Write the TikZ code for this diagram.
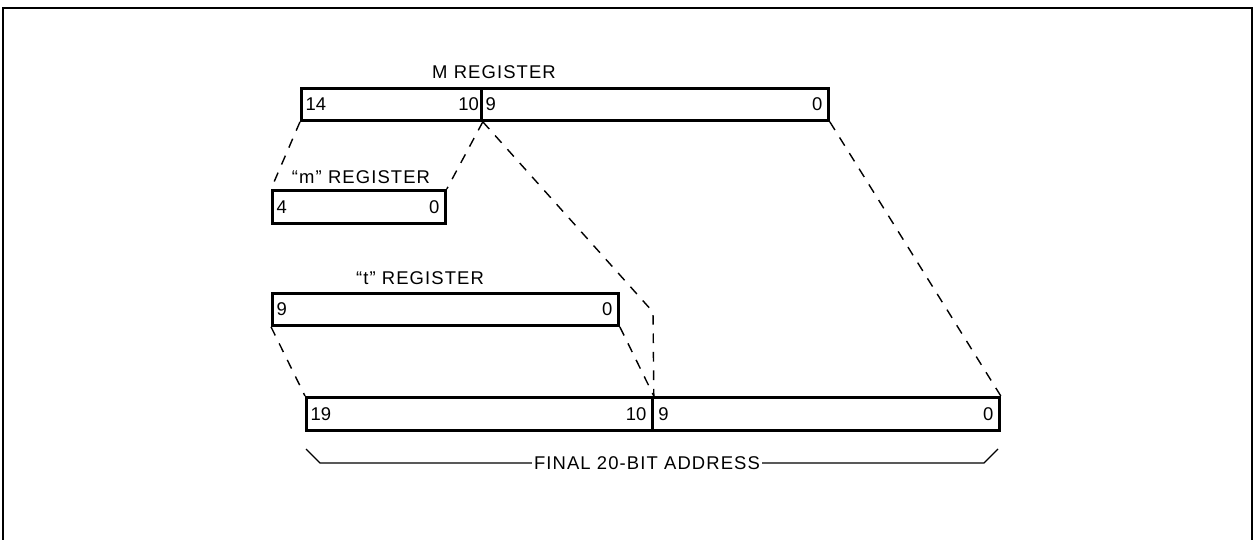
\documentclass[tikz,border=0pt]{standalone}
\usepackage{fontspec}
\setmainfont{Liberation Sans}
\newfontfamily\lblfont[LetterSpace=6]{Liberation Sans}
\begin{document}
\begin{tikzpicture}[x=0.02cm,y=-0.02cm,
  reg/.style={draw, line width=1.6pt, rectangle, inner sep=0pt, anchor=north west},
  bitnum/.style={font=\fontsize{10.5}{12}\selectfont, inner sep=0pt},
  lbl/.style={font=\lblfont\fontsize{10.5}{12}\selectfont, inner sep=1pt},
  conn/.style={line width=0.8pt, dash pattern=on 5.5pt off 5pt},
  frame/.style={line width=1.2pt},
  brace/.style={line width=0.7pt}]
\useasboundingbox (0,0) rectangle (1254,540);
% frame
\coordinate (fa) at (3,540);
\coordinate (fb) at (3,8);
\coordinate (fc) at (1252,8);
\coordinate (fd) at (1252,540);
\draw[frame] (fa) -- (fb) -- (fc) -- (fd);
% M register
\node[reg, minimum width=180*0.02cm, minimum height=32*0.02cm] (M1) at (300,87) {};
\node[reg, minimum width=347*0.02cm, minimum height=32*0.02cm] (M2) at (480,87) {};
\node[lbl] (Ml) at (494,72) {M REGISTER};
\node[bitnum, anchor=west] (M14) at (M1.west) [xshift=3pt] {14};
\node[bitnum, anchor=east] (M10) at (M1.east) [xshift=-2pt] {10};
\node[bitnum, anchor=west] (M9) at (M2.west) [xshift=3pt] {9};
\node[bitnum, anchor=east] (M0) at (M2.east) [xshift=-4pt] {0};
% m register
\node[reg, minimum width=173*0.02cm, minimum height=33*0.02cm] (m) at (271,189) {};
\node[lbl] (ml) at (361,177) {“m” REGISTER};
\node[bitnum, anchor=west] (m4) at (m.west) [xshift=3pt] {4};
\node[bitnum, anchor=east] (m0) at (m.east) [xshift=-4pt] {0};
% t register
\node[reg, minimum width=346*0.02cm, minimum height=32*0.02cm] (t) at (271,292) {};
\node[lbl] (tl) at (420,278) {“t” REGISTER};
\node[bitnum, anchor=west] (t9) at (t.west) [xshift=3pt] {9};
\node[bitnum, anchor=east] (t0) at (t.east) [xshift=-4pt] {0};
% final register
\node[reg, minimum width=346*0.02cm, minimum height=33*0.02cm] (F1) at (305,396) {};
\node[reg, minimum width=347*0.02cm, minimum height=33*0.02cm] (F2) at (651,396) {};
\node[bitnum, anchor=west] (F19) at (F1.west) [xshift=3pt] {19};
\node[bitnum, anchor=east] (F10) at (F1.east) [xshift=-4pt] {10};
\node[bitnum, anchor=west] (F9) at (F2.west) [xshift=4pt] {9};
\node[bitnum, anchor=east] (F0) at (F2.east) [xshift=-4pt] {0};
% dashed connectors
\coordinate (k) at (653,312);
\draw[conn] (M1.south west) -- (m.north west);
\draw[conn] (M1.south east) -- (m.north east);
\draw[conn] (M1.south east) -- (k) -- (F1.north east);
\draw[conn] (M2.south east) -- (F2.north east);
\draw[conn] (t.south west) -- (F1.north west);
\draw[conn] (t.south east) -- (F1.north east);
% brace
\node[lbl] (fin) at (647,463) {FINAL 20-BIT ADDRESS};
\coordinate (b1) at (306,449);
\coordinate (b2) at (320,463);
\coordinate (b3) at (984,463);
\coordinate (b4) at (998,449);
\draw[brace] (b1) -- (b2) -- (fin.west);
\draw[brace] (fin.east) -- (b3) -- (b4);
\end{tikzpicture}
\end{document}
